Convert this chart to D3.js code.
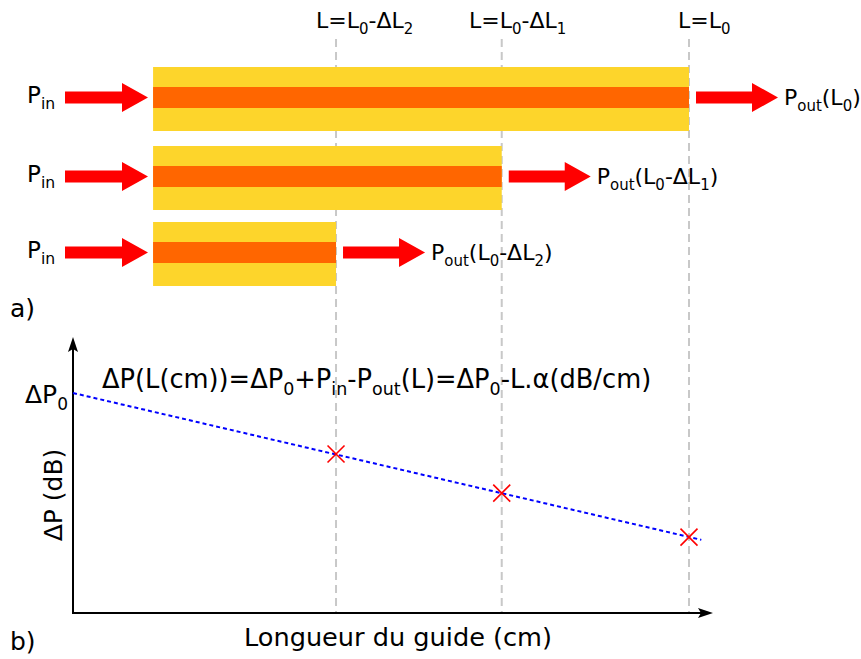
<!DOCTYPE html>
<html><head><meta charset="utf-8">
<script src="https://cdn.jsdelivr.net/npm/d3@7"></script>
<style>body{margin:0;background:#fff} text{font-family:"DejaVu Sans",sans-serif;fill:#000}</style>
</head><body><svg id="c" width="861" height="659"></svg>
<script>
// ---- data ----
const guideLengths = [10, 6.96, 4.27];          // L0, L0-ΔL1, L0-ΔL2 (cm, relative)
const guideStart = 1.3;                          // guide input facet position (cm)
const topLabels = ["L=L_{0}", "L=L_{0}-ΔL_{1}", "L=L_{0}-ΔL_{2}"];
const outLabels = ["P_{out}(L_{0})", "P_{out}(L_{0}-ΔL_{1})", "P_{out}(L_{0}-ΔL_{2})"];
const inLabel = "P_{in}";
const deltaPmeasured = [2.76, 4.36, 5.78];       // ΔP (dB) at each length
const fitL = [0, 10.2];
const fitDeltaP = [8.0, 2.66];
const deltaP0Label = "ΔP_{0}";
const equation = "ΔP(L(cm))=ΔP_{0}+P_{in}-P_{out}(L)=ΔP_{0}-L.α(dB/cm)";
const xAxisTitle = "Longueur du guide (cm)";
const yAxisTitle = "ΔP (dB)";
const panelLabels = ["a)", "b)"];

// ---- layout ----
const svg = d3.select("#c");
const x = d3.scaleLinear().domain([0, 10]).range([73, 689]);
const y = d3.scaleLinear().domain([0, 10]).range([613, 338]);
const rowTop = [67, 146, 222];
const topLabelX = [678, 469, 316];

function rich(sel, px, py, str, size) {
  const t = sel.append("text").attr("x", px).attr("y", py).attr("font-size", size);
  const parts = str.split(/(_\{[^}]*\})/).filter(s => s.length);
  let shifted = false;
  parts.forEach(p => {
    if (p.startsWith("_{")) {
      t.append("tspan").attr("font-size", size * 0.68).attr("dy", size * 0.26).text(p.slice(2, -1));
      shifted = true;
    } else {
      const ts = t.append("tspan").text(p);
      if (shifted) { ts.attr("dy", -size * 0.26); shifted = false; }
    }
  });
  return t;
}
function arrow(x0, x1, cy) {
  const hl = 26, sh = 6, hh = 14.5;
  return `M${x0},${cy - sh}L${x1 - hl},${cy - sh}L${x1 - hl},${cy - hh}L${x1},${cy}L${x1 - hl},${cy + hh}L${x1 - hl},${cy + sh}L${x0},${cy + sh}Z`;
}

// dashed reference lines
svg.selectAll("line.ref").data(guideLengths).join("line")
  .attr("x1", d => x(d)).attr("x2", d => x(d)).attr("y1", 39).attr("y2", 612)
  .attr("stroke", "#c8c8c8").attr("stroke-width", 2).attr("stroke-dasharray", "8,5");

// waveguides
const g = svg.selectAll("g.guide").data(guideLengths).join("g");
g.append("rect").attr("x", x(guideStart)).attr("y", (d, i) => rowTop[i])
  .attr("width", d => x(d) - x(guideStart)).attr("height", 64).attr("fill", "#fdd52b");
g.append("rect").attr("x", x(guideStart)).attr("y", (d, i) => rowTop[i] + 20)
  .attr("width", d => x(d) - x(guideStart)).attr("height", 21).attr("fill", "#ff6600");
g.append("path").attr("d", (d, i) => arrow(65, 148, rowTop[i] + 30.5)).attr("fill", "#ff0000");
g.append("path").attr("d", (d, i) => arrow(x(d) + 7, x(d) + 89, rowTop[i] + 30.5)).attr("fill", "#ff0000");
guideLengths.forEach((d, i) => {
  rich(svg, 27, rowTop[i] + 36, inLabel, 23);
  rich(svg, x(d) + 95, rowTop[i] + 38, outLabels[i], 22);
  rich(svg, topLabelX[i], 28, topLabels[i], 22);
});

// axes
svg.append("line").attr("x1", 73).attr("x2", 73).attr("y1", 614).attr("y2", 342).attr("stroke", "#000").attr("stroke-width", 2);
svg.append("line").attr("x1", 72).attr("x2", 708).attr("y1", 613).attr("y2", 613).attr("stroke", "#000").attr("stroke-width", 2);
svg.append("path").attr("d", "M73,337L78,352L73,349L68,352Z").attr("fill", "#000");
svg.append("path").attr("d", "M713,613L698,608L701,613L698,618Z").attr("fill", "#000");

// fit line
const line = d3.line().x(d => x(d[0])).y(d => y(d[1]));
svg.append("path").attr("d", line(fitL.map((l, i) => [l, fitDeltaP[i]])))
  .attr("fill", "none").attr("stroke", "#0000ff").attr("stroke-width", 2).attr("stroke-dasharray", "4,3");

// markers
const m = 8.5;
svg.selectAll("path.mk").data(guideLengths).join("path")
  .attr("d", (d, i) => {
    const cx = x(d), cy = y(deltaPmeasured[i]);
    return `M${cx - m},${cy - m}L${cx + m},${cy + m}M${cx - m},${cy + m}L${cx + m},${cy - m}`;
  })
  .attr("stroke", "#ff0000").attr("stroke-width", 1.6).attr("fill", "none");

// texts
rich(svg, 102, 388, equation, 25.7);
rich(svg, 25, 403, deltaP0Label, 25);
svg.append("text").attr("transform", "translate(62,495) rotate(-90)").attr("text-anchor", "middle").attr("font-size", 25).text(yAxisTitle);
svg.append("text").attr("x", 398).attr("y", 646).attr("text-anchor", "middle").attr("font-size", 25.6).text(xAxisTitle);
svg.append("text").attr("x", 10).attr("y", 317).attr("font-size", 25).text(panelLabels[0]);
svg.append("text").attr("x", 10).attr("y", 650).attr("font-size", 25).text(panelLabels[1]);
</script></body></html>
